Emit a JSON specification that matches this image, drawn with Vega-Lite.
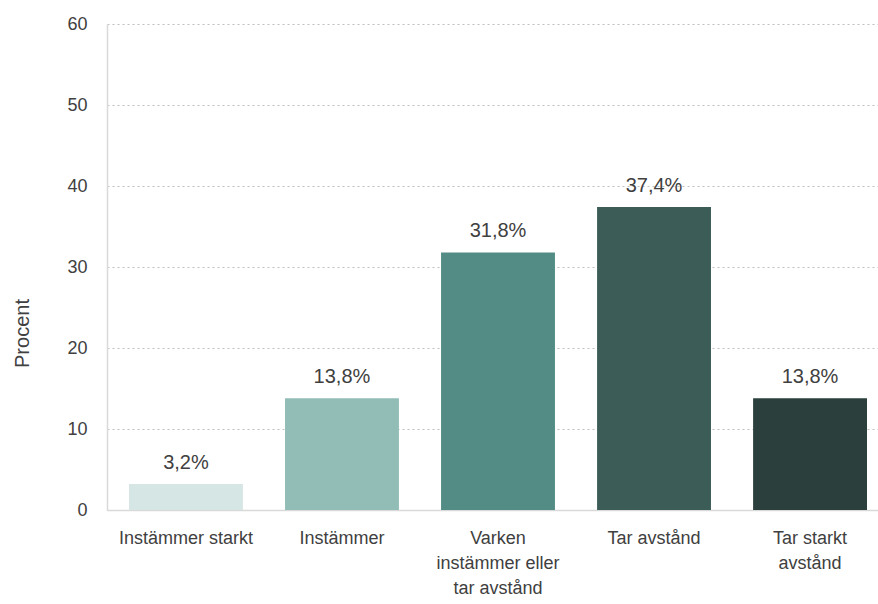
{
  "$schema": "https://vega.github.io/schema/vega-lite/v6.json",
  "width": 771,
  "height": 486,
  "autosize": {"type": "none"},
  "padding": {"left": 107, "top": 24, "right": 0, "bottom": 94},
  "background": "white",
  "config": {
    "view": {"stroke": null},
    "font": "Liberation Sans"
  },
  "data": {
    "values": [
      {"kategori": "Instämmer starkt", "procent": 3.2, "etikett": "3,2%", "farg": "#D6E6E4"},
      {"kategori": "Instämmer", "procent": 13.8, "etikett": "13,8%", "farg": "#92BDB7"},
      {"kategori": "Varken|instämmer eller|tar avstånd", "procent": 31.8, "etikett": "31,8%", "farg": "#528C85"},
      {"kategori": "Tar avstånd", "procent": 37.4, "etikett": "37,4%", "farg": "#3C5C57"},
      {"kategori": "Tar starkt|avstånd", "procent": 13.8, "etikett": "13,8%", "farg": "#2B403D"}
    ]
  },
  "encoding": {
    "x": {
      "field": "kategori",
      "type": "nominal",
      "sort": null,
      "scale": {"range": [0, 782], "paddingInner": 0.27, "paddingOuter": 0.141},
      "axis": {
        "title": null,
        "labelAngle": 0,
        "labelExpr": "split(datum.label, '|')",
        "labelFontSize": 18,
        "labelColor": "#404040",
        "labelFont": "Liberation Sans",
        "labelLineHeight": 25,
        "labelPadding": 19,
        "labelBaseline": "top",
        "ticks": false,
        "domainColor": "#D9D9D9",
        "domainWidth": 1.5,
        "labelLimit": 300
      }
    },
    "y": {
      "field": "procent",
      "type": "quantitative",
      "scale": {"domain": [0, 60], "nice": false},
      "axis": {
        "title": "Procent",
        "titleFont": "Liberation Sans",
        "titleFontSize": 20,
        "titleFontWeight": "normal",
        "titleColor": "#404040",
        "titleAngle": -90,
        "titleX": -85,
        "titleY": 309,
        "titleAlign": "center",
        "titleBaseline": "middle",
        "values": [0, 10, 20, 30, 40, 50, 60],
        "labelFontSize": 18,
        "labelColor": "#404040",
        "labelFont": "Liberation Sans",
        "labelPadding": 20,
        "ticks": false,
        "domainColor": "#D9D9D9",
        "domainWidth": 1.5,
        "gridColor": "#BFBFBF",
        "gridDash": [2, 3],
        "gridWidth": 1
      }
    }
  },
  "layer": [
    {
      "mark": {"type": "bar"},
      "encoding": {
        "color": {"field": "farg", "type": "nominal", "scale": null, "legend": null}
      }
    },
    {
      "mark": {"type": "text", "baseline": "bottom", "dy": -11, "fontSize": 20, "color": "#404040", "font": "Liberation Sans"},
      "encoding": {
        "text": {"field": "etikett"}
      }
    }
  ]
}
